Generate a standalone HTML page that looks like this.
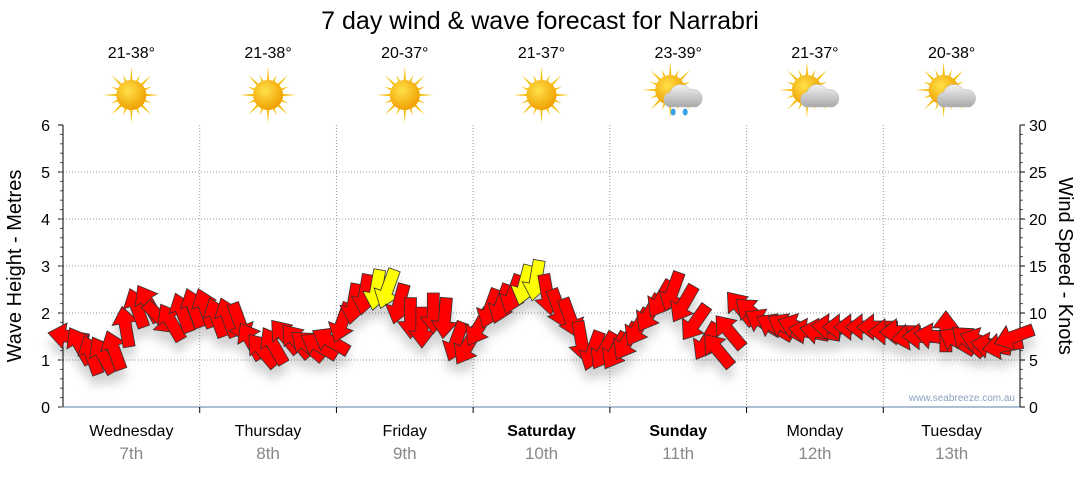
<!DOCTYPE html>
<html><head><meta charset="utf-8"><style>
body{margin:0;background:#fff;width:1080px;height:475px;overflow:hidden}
svg{font-family:"Liberation Sans","DejaVu Sans",sans-serif}
</style></head><body>
<svg id="c" width="1080" height="475" viewBox="0 0 1080 475">
<defs>
<radialGradient id="sun" cx="40%" cy="35%" r="65%"><stop offset="0" stop-color="#ffe14a"/><stop offset="1" stop-color="#f0a000"/></radialGradient>
<linearGradient id="cloud" x1="0" y1="0" x2="0" y2="1"><stop offset="0" stop-color="#f2f2f2"/><stop offset="1" stop-color="#a8a8a8"/></linearGradient>
<filter id="sh" x="-50%" y="-50%" width="200%" height="250%"><feDropShadow dx="0" dy="10" stdDeviation="5" flood-color="#000" flood-opacity="0.18"/></filter>
</defs>
<text x="540" y="29" text-anchor="middle" font-size="25" fill="#000">7 day wind &amp; wave forecast for Narrabri</text>
<g id="grid"></g><g id="axes"></g><g id="icons"></g><g id="arrows" filter="url(#sh)"></g>
<text transform="translate(21,266) rotate(-90)" text-anchor="middle" font-size="20">Wave Height - Metres</text>
<text transform="translate(1059,266) rotate(90)" text-anchor="middle" font-size="20">Wind Speed - Knots</text>
<text x="1015" y="401" text-anchor="end" font-size="10" fill="#8aa0c0">www.seabreeze.com.au</text>
</svg>
<script>
const days=["Wednesday","Thursday","Friday","Saturday","Sunday","Monday","Tuesday"];
const dates=["7th","8th","9th","10th","11th","12th","13th"];
const boldDays=[false,false,false,true,true,false,false];
const temps=["21-38°","21-38°","20-37°","21-37°","23-39°","21-37°","20-38°"];
const weather=["sun","sun","sun","sun","rain","cloud","cloud"];
const leftTicks=[0,1,2,3,4,5,6];
const rightTicks=[0,5,10,15,20,25,30];
const windSpeed=[7.5,6.5,5.5,5.5,6,8.5,10.5,11,9.5,9,10,10.5,
10.5,9.5,9.5,9,7,6,6.5,7.5,7,6.5,6.5,7,
9,11,12,12.5,12.6,11,9.5,8.5,10,9.5,7,6.5,
8.5,10.5,11,12,13,13.5,12,10.5,9.5,7,6,6,
6,7,8.5,10,11.5,12.3,11,9,7,6,8,10.5,
10,9,8.5,8.5,8.5,8,8,8.5,8.5,8.5,8.5,8.5,
8,8,7.5,7.5,7.5,8,7,7,7,6.5,6.5,7.5];
const windDir=[-80,-30,-20,-30,-20,-10,-20,-30,135,-30,-20,-20,
-20,-20,-20,160,-30,-40,-30,-40,-40,-50,-60,-60,
200,190,190,190,200,195,180,180,180,185,200,210,
210,200,200,200,195,190,170,160,160,170,200,210,
210,210,210,210,210,200,210,215,210,-40,-40,-40,
-50,-60,-60,-60,-70,-80,-80,-85,-90,-90,-90,-90,
-90,-90,-100,-90,-80,0,-60,-50,-70,-80,-100,-110];
const NS="http://www.w3.org/2000/svg";
const X0=63,X1=1020,Y0=407,Y1=125;
const dayW=(X1-X0)/7;
const yM=v=>Y0-(v/6)*(Y0-Y1);
const yK=v=>Y0-(v/30)*(Y0-Y1);
const xT=i=>X0+(i+0.5)*(X1-X0)/windSpeed.length;
function mk(tag,attrs,parent){const e=document.createElementNS(NS,tag);for(const k in attrs)e.setAttribute(k,attrs[k]);parent.appendChild(e);return e;}
const grid=document.getElementById('grid'),axes=document.getElementById('axes'),icons=document.getElementById('icons'),arrows=document.getElementById('arrows');
leftTicks.forEach(t=>{if(t>0&&t<6){const l=mk('line',{x1:X0,x2:X1,y1:yM(t),y2:yM(t),stroke:'#999','stroke-dasharray':'1,2'},grid);

}
const tl=mk('text',{x:50,y:yM(t)+6,'text-anchor':'end','font-size':16},axes);tl.textContent=t;


mk('line',{x1:X0-5,x2:X0,y1:yM(t),y2:yM(t),stroke:'#000'},axes);});
for(let v=0;v<=6;v+=0.2){mk('line',{x1:X0-3,x2:X0,y1:yM(v),y2:yM(v),stroke:'#555'},axes);mk('line',{x1:X1,x2:X1+3,y1:yM(v),y2:yM(v),stroke:'#555'},axes);}
rightTicks.forEach(t=>{const tl=mk('text',{x:1029,y:yK(t)+6,'font-size':16},axes);tl.textContent=t;


mk('line',{x1:X1,x2:X1+5,y1:yK(t),y2:yK(t),stroke:'#000'},axes);});
mk('line',{x1:X0,x2:X0,y1:Y1,y2:Y0,stroke:'#000'},axes);
mk('line',{x1:X1,x2:X1,y1:Y1,y2:Y0,stroke:'#000'},axes);
mk('line',{x1:X0,x2:X1,y1:Y0,y2:Y0,stroke:'#5b7fa6'},axes);
days.forEach((d,i)=>{const cx=X0+(i+0.5)*dayW;
if(i>0){const g=mk('line',{x1:X0+i*dayW,x2:X0+i*dayW,y1:Y1,y2:Y0,stroke:'#999','stroke-dasharray':'1,2'},grid);


mk('line',{x1:X0+i*dayW,x2:X0+i*dayW,y1:Y0,y2:Y0+6,stroke:'#000'},axes);}
const t=mk('text',{x:cx,y:436,'text-anchor':'middle','font-size':16,'font-weight':boldDays[i]?'bold':'normal'},axes);t.textContent=d;


const t2=mk('text',{x:cx,y:459,'text-anchor':'middle','font-size':17,fill:'#888'},axes);t2.textContent=dates[i];


const t3=mk('text',{x:cx,y:58,'text-anchor':'middle','font-size':16},icons);t3.textContent=temps[i];


const g=mk('g',{transform:`translate(${cx},95)`},icons);


const w=weather[i],sx=w==='sun'?0:-8,sy=w==='sun'?0:-5;
for(let a=0;a<16;a++){const L=a%2?22:28;const r=a*Math.PI/8;mk('polygon',{points:`${sx+Math.cos(r-0.12)*12},${sy+Math.sin(r-0.12)*12} ${sx+Math.cos(r)*L},${sy+Math.sin(r)*L} ${sx+Math.cos(r+0.12)*12},${sy+Math.sin(r+0.12)*12}`,fill:'#f5c010'},g);}
mk('circle',{cx:sx,cy:sy,r:15,fill:'url(#sun)'},g);
if(w!=='sun'){mk('path',{d:'M-10,12 a8,8 0 0 1 2,-15 a11,11 0 0 1 20,-2 a9,9 0 0 1 6,17 z',fill:'url(#cloud)',stroke:'#bbb','stroke-width':0.5},g);}
if(w==='rain'){mk('ellipse',{cx:-5,cy:17,rx:2.5,ry:3.5,fill:'#3aa0e0'},g);mk('ellipse',{cx:7,cy:17,rx:2.5,ry:3.5,fill:'#3aa0e0'},g);}
});
windSpeed.forEach((v,i)=>{const x=xT(i),y=yK(v);
const col=v>=12.5?'#ffff00':'#ff0000';
const p=mk('polygon',{points:'-6,20 -6,-4 -13,-4 0,-21 13,-4 6,-4 6,20',fill:col,stroke:'#333','stroke-width':0.8,transform:`translate(${x.toFixed(1)},${y.toFixed(1)}) rotate(${windDir[i]})`},arrows);


});
</script>
</body></html>
